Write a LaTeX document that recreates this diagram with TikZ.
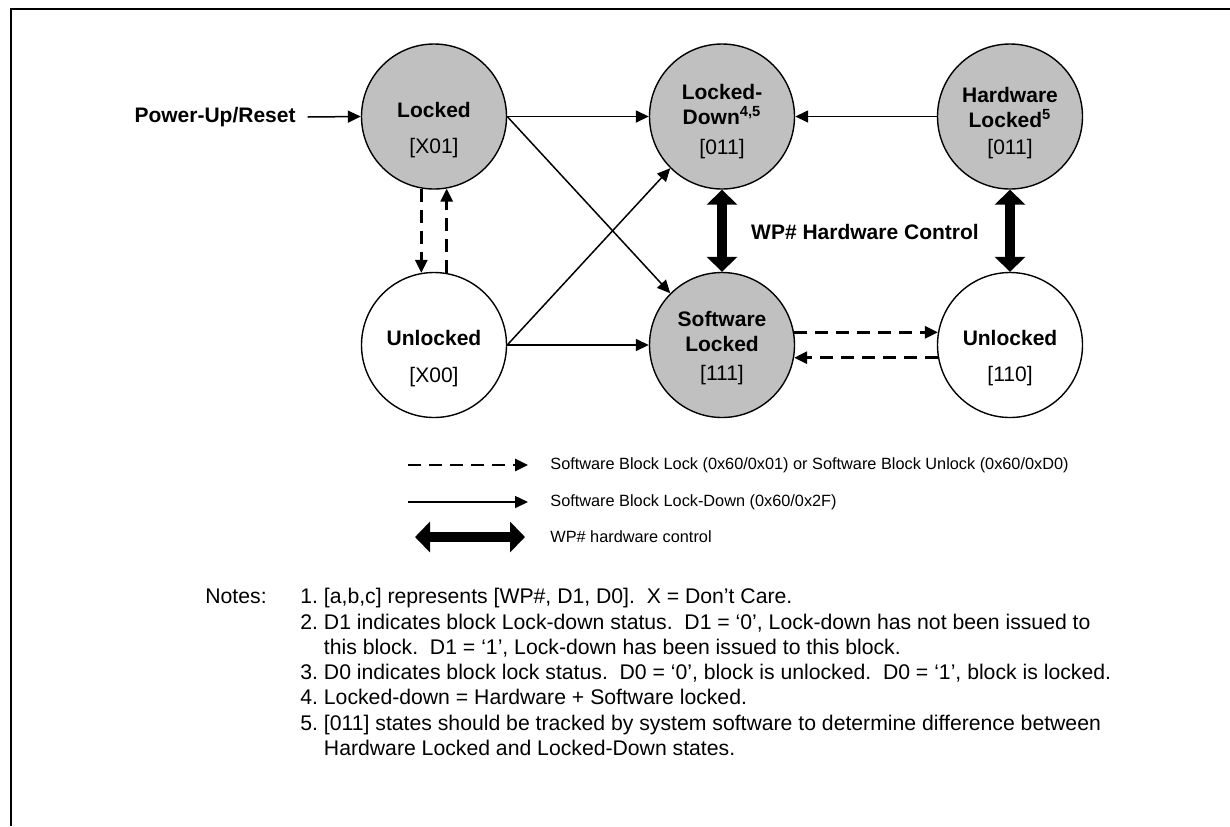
\documentclass[tikz,border=0pt]{standalone}
\usepackage{fontspec}
\setmainfont{Liberation Sans}
\usepackage{tikz}
\usetikzlibrary{arrows.meta}
\definecolor{lockgray}{RGB}{192,192,192}
\frenchspacing
\tikzset{
    snode/.style={circle,draw,line width=0.7pt,minimum size=72.5pt,inner sep=0pt},
    gnode/.style={snode,fill=lockgray},
    wnode/.style={snode,fill=white},
    bname/.style={inner sep=0pt,align=center,font=\fontsize{10.5}{12.5}\selectfont\bfseries},
    bcode/.style={inner sep=0pt,font=\fontsize{10.5}{12.5}\selectfont},
    ltext/.style={inner sep=0pt,anchor=west,font=\fontsize{8.15}{9.8}\selectfont},
    ntext/.style={inner sep=0pt,align=left,font=\fontsize{10.6}{12.65}\selectfont},
    frame/.style={draw,line width=1pt},
    sw/.style={draw,line width=0.75pt,-{Triangle[length=6.5pt,width=6pt]}},
    dsh/.style={draw,line width=1.4pt,dash pattern=on 6.5pt off 4pt,-{Triangle[length=6.5pt,width=6pt]}},
    hw/.style={draw,line width=5pt,{Triangle[length=7.5pt,width=15pt]}-{Triangle[length=7.5pt,width=15pt]}},
}

\begin{document}
\begin{tikzpicture}[x=0.5pt,y=-0.5pt]
\useasboundingbox (0,0) rectangle (1230,826);
\draw[frame] (1230,9) -- (11,9) -- (11,826);
\def\r{116.5}
\def\s{345}
% states
\node[gnode] (lk) at (434,\r)  {};
\node[wnode] (ul) at (434,\s)  {};
\node[gnode] (ld) at (722,\r)  {};
\node[gnode] (hl) at (1010,\r) {};
\node[gnode] (sl) at (722,\s)  {};
\node[wnode] (ur) at (1010,\s) {};
% state texts
\node[bname] (lk-n) at (434,110)    {Locked};
\node[bcode] (lk-c) at (434,148)    {[X01]};
\node[bname] (ul-n) at (434,338)    {Unlocked};
\node[bcode] (ul-c) at (434,377)    {[X00]};
\node[bname] (ld-n) at (722,104.5)  {Locked-\\Down\textsuperscript{4,5}};
\node[bcode] (ld-c) at (722,149)    {[011]};
\node[bname] (hl-n) at (1010,107.5) {Hardware\\Locked\textsuperscript{5}};
\node[bcode] (hl-c) at (1010,149)   {[011]};
\node[bname] (sl-n) at (722,331.5)  {Software\\Locked};
\node[bcode] (sl-c) at (722,375)    {[111]};
\node[bname] (ur-n) at (1010,338)   {Unlocked};
\node[bcode] (ur-c) at (1010,376)   {[110]};
\node[bname,anchor=east,inner xsep=5.75pt] (pu) at (307.5,117) {Power-Up/Reset};
\node[bname] (wp) at (865,232) {WP\# Hardware Control};
\path
(pu.east) edge[sw] (lk.west)
(lk.east) edge[sw] (ld.west)
(lk.east) edge[sw] (sl.north west)
(ul.east) edge[sw] (ld.south west)
(ul.east) edge[sw] (sl.west)
(hl.west) edge[sw] (ld.east)
(lk.260) edge[dsh] (ul.100)
(ul.80) edge[dsh] (lk.280)
(sl.10) edge[dsh] (ur.170)
(ur.190) edge[dsh] (sl.350)
(ld.south) edge[hw] (sl.north)
(hl.south) edge[hw] (ur.north)
;
% legend
\coordinate (l1a) at (408,465); \coordinate (l1b) at (528,465);
\coordinate (l2a) at (408,502); \coordinate (l2b) at (528,502);
\coordinate (l3a) at (415,537); \coordinate (l3b) at (525,537);
\node[ltext] (l1t) at (550,465) {Software Block Lock (0x60/0x01) or Software Block Unlock (0x60/0xD0)};
\node[ltext] (l2t) at (550,502) {Software Block Lock-Down (0x60/0x2F)};
\node[ltext] (l3t) at (550,537) {WP\# hardware control};
\path
(l1a) edge[dsh] (l1b)
(l2a) edge[sw] (l2b)
(l3a) edge[hw] (l3b)
;
% notes
\node[ntext,anchor=base west] (nt) at (205,603) {Notes:};
\node[ntext,anchor=north west] (ns) at (300,588) {1. [a,b,c] represents [WP\#, D1, D0].\ \ X = Don’t Care.\\
2. D1 indicates block Lock-down status.\ \ D1 = ‘0’, Lock-down has not been issued to\\
\phantom{2.}\ this block.\ \ D1 = ‘1’, Lock-down has been issued to this block.\\
3. D0 indicates block lock status.\ \ D0 = ‘0’, block is unlocked.\ \ D0 = ‘1’, block is locked.\\
4. Locked-down = Hardware + Software locked.\\
5. [011] states should be tracked by system software to determine difference between\\
\phantom{5.}\ Hardware Locked and Locked-Down states.};
\end{tikzpicture}
\end{document}
